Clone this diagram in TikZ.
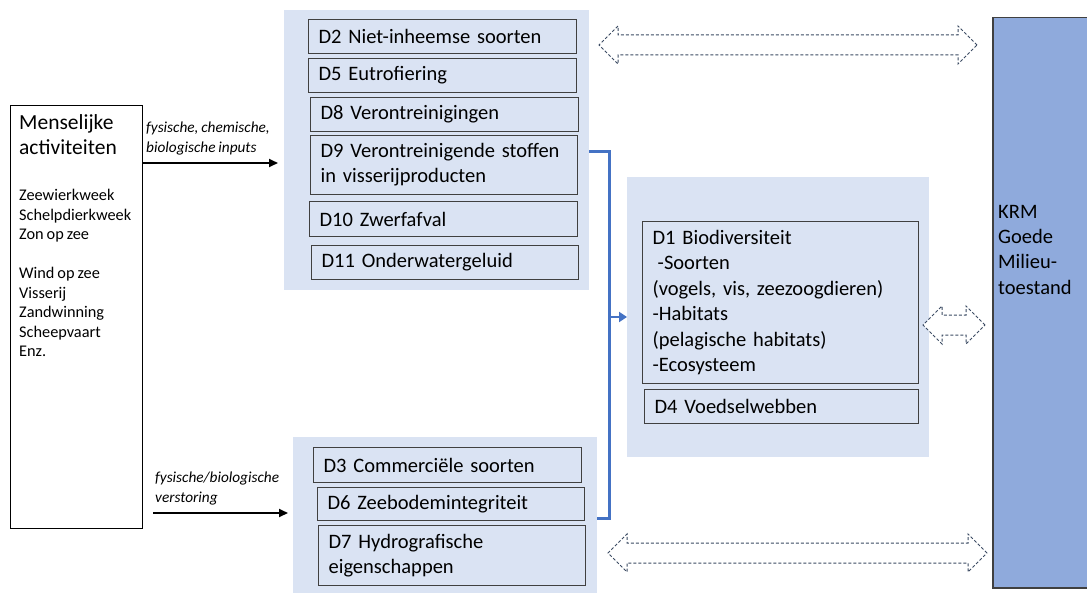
\documentclass[tikz,border=0pt]{standalone}
\usepackage{fontspec}
\setmainfont{Carlito}[WordSpace=0.8]
\usetikzlibrary{arrows.meta,shapes.arrows}
\definecolor{grpbg}{HTML}{DAE3F3}
\definecolor{boxline}{HTML}{404040}
\definecolor{krmfill}{HTML}{8FAADC}
\definecolor{conblue}{HTML}{4472C4}
\definecolor{dasharr}{HTML}{3B4A63}
\begin{document}
\begin{tikzpicture}[x=1pt,y=-1pt,
  grp/.style={fill=grpbg, draw=none, anchor=north west, inner sep=0pt},
  dbox/.style={draw=boxline, line width=1.2pt, anchor=north west, inner xsep=10pt, inner ysep=0pt, align=left, font=\fontsize{20.5}{25}\selectfont},
  plain/.style={anchor=north west, inner sep=0pt, align=left},
  darr/.style={double arrow, draw=dasharr, densely dashed, line width=1pt, fill=white, minimum width=37pt, double arrow head extend=9pt, inner xsep=0pt, inner ysep=9.5pt},
  inarr/.style={line width=2pt, -{Triangle[length=9pt,width=8pt]}},
  conn/.style={draw=conblue, line width=3pt},
]
\useasboundingbox (0,0) rectangle (1087,594);
\fill[white] (0,0) rectangle (1087,594);

% human activities
\node[draw=black, line width=1.3pt, anchor=north west, minimum width=132pt, minimum height=423pt, inner sep=0pt] (acts) at (10,105) {};
\node[plain, font=\fontsize{21.5}{25}\selectfont] (actstitle) at (19,114) {Menselijke\\activiteiten};
\node[plain, font=\fontsize{16.3}{19.5}\selectfont] (actslist) at (19,189) {Zeewierkweek\\Schelpdierkweek\\Zon op zee\\[19.5pt]Wind op zee\\Visserij\\Zandwinning\\Scheepvaart\\Enz.};

% groups
\node[grp, minimum width=305pt, minimum height=280pt] (topgrp) at (284,10) {};
\node[grp, minimum width=304pt, minimum height=156pt] (botgrp) at (293,437) {};
\node[grp, minimum width=302pt, minimum height=280pt] (midgrp) at (627,177) {};

% top group boxes
\node[dbox, minimum width=268pt, minimum height=34pt, text width=248pt] (d2) at (308,19) {D2 Niet-inheemse soorten};
\node[dbox, minimum width=268pt, minimum height=34pt, text width=248pt] (d5) at (308,58) {D5 Eutrofiering};
\node[dbox, minimum width=268pt, minimum height=34pt, text width=248pt] (d8) at (310,97) {D8 Verontreinigingen};
\node[dbox, minimum width=267pt, minimum height=59pt, text width=247pt] (d9) at (310,135) {D9 Verontreinigende stoffen\\in visserijproducten};
\node[dbox, minimum width=268pt, minimum height=35pt, text width=248pt] (d10) at (309,201) {D10 Zwerfafval};
\node[dbox, minimum width=267pt, minimum height=34pt, text width=247pt] (d11) at (311,245) {D11 Onderwatergeluid};

% bottom group boxes
\node[dbox, minimum width=268pt, minimum height=35pt, text width=248pt] (d3) at (313,447) {D3 Commerciële soorten};
\node[dbox, minimum width=267pt, minimum height=33pt, text width=247pt] (d6) at (317,487) {D6 Zeebodemintegriteit};
\node[dbox, minimum width=267pt, minimum height=60pt, text width=247pt] (d7) at (318,525) {D7 Hydrografische\\eigenschappen};

% middle group boxes
\node[dbox, minimum width=276pt, minimum height=162pt, text width=256pt, font=\fontsize{20.5}{25.4}\selectfont] (d1) at (642,221) {D1 Biodiversiteit\\\hspace*{0.25em}-Soorten\\(vogels, vis, zeezoogdieren)\\-Habitats\\(pelagische habitats)\\-Ecosysteem};
\node[dbox, minimum width=274pt, minimum height=34pt, text width=254pt] (d4) at (644,389) {D4 Voedselwebben};

% KRM
\node[draw=boxline, line width=1.5pt, fill=krmfill, anchor=north west, minimum width=110pt, minimum height=570pt, inner sep=0pt] (krm) at (992,17) {};
\node[plain, font=\fontsize{20.5}{25.3}\selectfont] (krmtext) at (998,205) {KRM\\Goede\\Milieu-\\toestand};

% input arrows
\coordinate (in1s) at (143,163);
\coordinate (in1e) at (278,163);
\coordinate (in2s) at (153,513);
\coordinate (in2e) at (288,513);
\draw[inarr] (in1s) -- (in1e);
\draw[inarr] (in2s) -- (in2e);
\node[plain, font=\fontsize{15.3}{20}\itshape\selectfont] (lab1) at (146,122) {fysische, chemische,\\biologische inputs};
\node[plain, font=\fontsize{15.3}{20}\itshape\selectfont] (lab2) at (155,472) {fysische/biologische\\verstoring};

% blue connector
\coordinate (bt) at (609,151);
\coordinate (bb) at (609,518);
\coordinate (bm) at (609,317);
\draw[conn, line join=miter] (topgrp.east |- bt) -- (bt) -- (bb) -- (botgrp.east |- bb);
\draw[conn, line width=2.4pt, -{Triangle[length=8pt,width=10pt]}] (bm) -- (midgrp.west |- bm);

% double arrows
\node[darr, minimum height=378pt] (arrtop) at (788,45) {};
\node[darr, minimum height=62pt] (arrmid) at (954,325) {};
\node[darr, minimum height=379pt] (arrbot) at (797.5,553) {};
\end{tikzpicture}
\end{document}
